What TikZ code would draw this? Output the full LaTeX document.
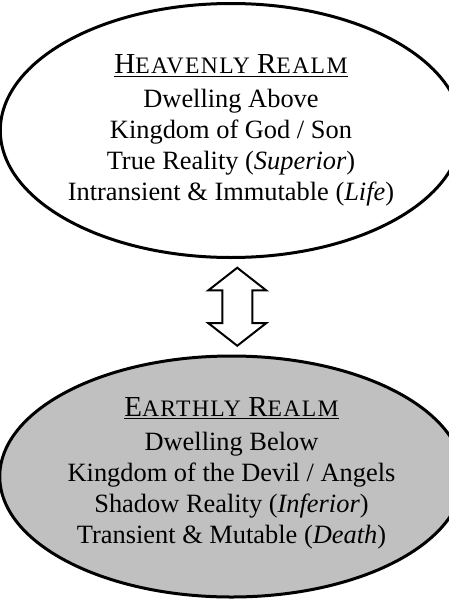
\documentclass[tikz,border=0pt]{standalone}
\usepackage{fontspec}
\setmainfont{Liberation Serif}
\usetikzlibrary{shapes.geometric,shapes.arrows,calc}
\definecolor{earthgray}{RGB}{192,192,192}
\newcommand{\realmhead}[4]{\underline{{\fontsize{14.5}{15.5}\selectfont #1}%
  {\fontsize{11.8}{12}\selectfont\addfontfeatures{LetterSpace=6}#2}%
  {\fontsize{14.5}{15.5}\selectfont\ #3}%
  {\fontsize{11.8}{12}\selectfont\addfontfeatures{LetterSpace=6}#4}}}

\begin{document}
\begin{tikzpicture}[x=0.5pt,y=-0.5pt,
  realm/.style={ellipse,draw,line width=1.5pt,inner sep=0pt,align=center,
    font=\fontsize{13.2}{15.5}\selectfont}]
\useasboundingbox (0,0) rectangle (449,600);
\node[realm,fill=white,minimum width=215.5pt,minimum height=127pt] (heaven) at (231,130.5)
  {\realmhead{H}{EAVENLY}{R}{EALM}\\[1.5pt]Dwelling Above\\Kingdom of God / Son\\True Reality (\textit{Superior})\\Intransient \& Immutable (\textit{Life})};
\node[realm,fill=earthgray,minimum width=215.5pt,minimum height=120.5pt] (earth) at (231.5,476.5)
  {\realmhead{E}{ARTHLY}{R}{EALM}\\[1.5pt]Dwelling Below\\Kingdom of the Devil / Angels\\Shadow Reality (\textit{Inferior})\\Transient \& Mutable (\textit{Death})\\[-9pt]};
\node[double arrow,draw,line width=1pt,fill=white,rotate=90,inner xsep=0pt,inner ysep=7pt,
  minimum height=39pt,minimum width=28pt,double arrow head extend=7pt,
  double arrow tip angle=104] (link) at ($(heaven.south)!0.5!(earth.north)+(6,0)$) {};
\end{tikzpicture}
\end{document}
